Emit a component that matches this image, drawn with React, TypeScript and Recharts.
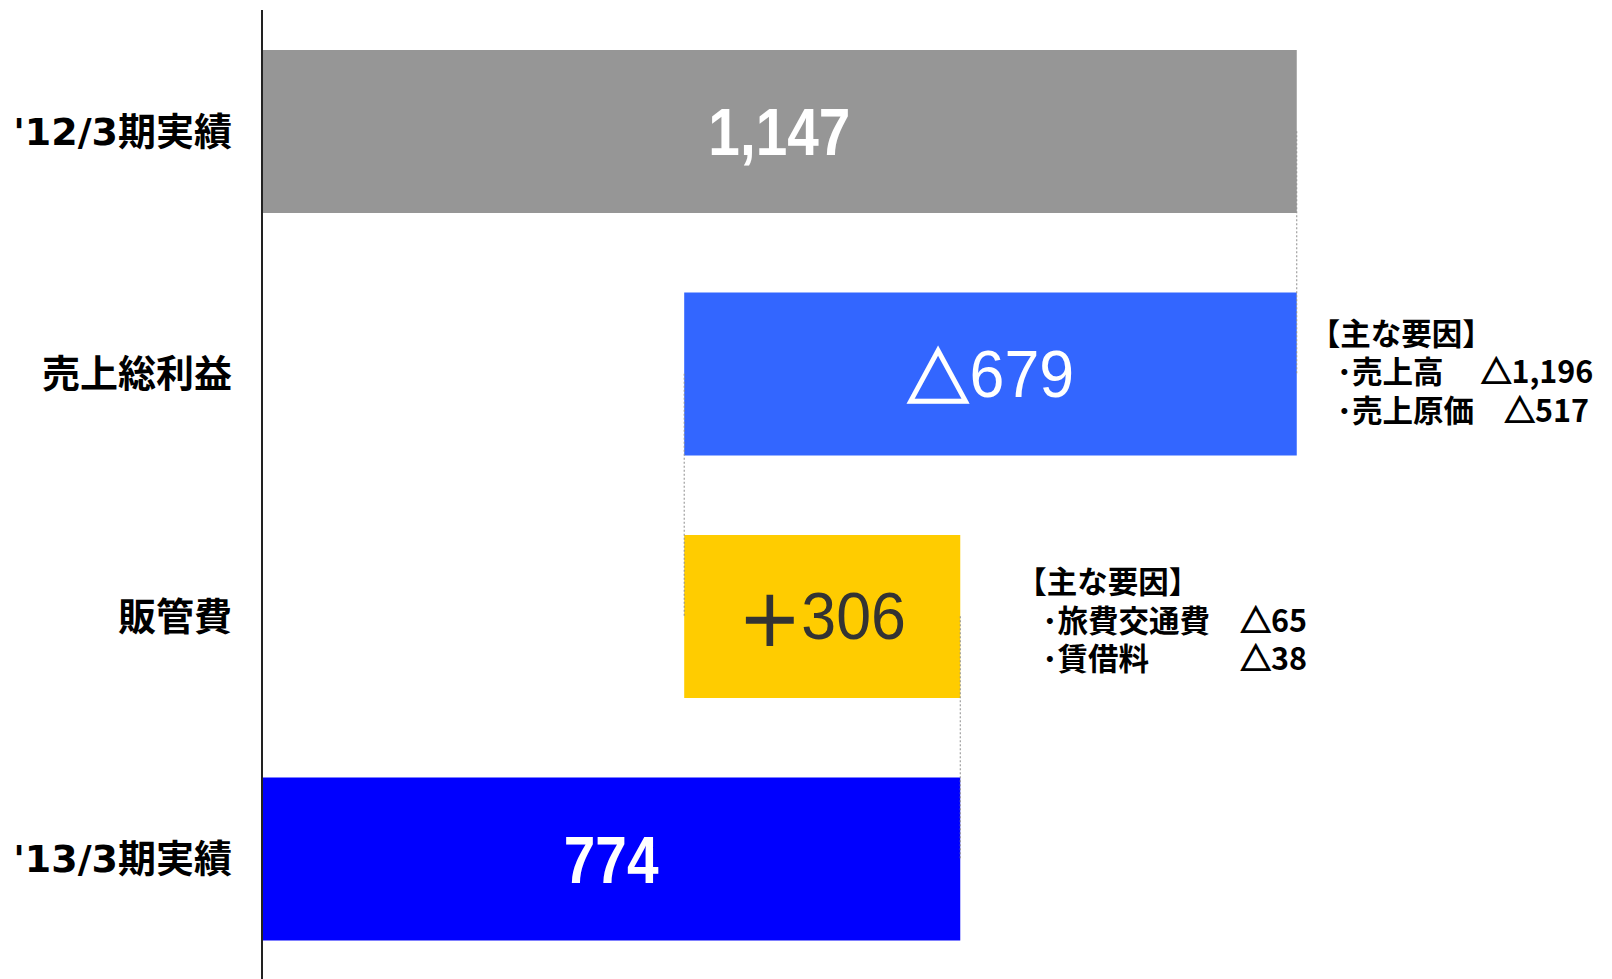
import { BarChart, Bar, XAxis, YAxis, ReferenceLine, LabelList, Cell } from "recharts";

// categories and values (waterfall, 百万円)
const categories = ["'12/3期実績", "売上総利益", "販管費", "'13/3期実績"];
const amounts = [1147, 679, 306, 774];
const valueSigns = ["", "△", "＋", ""];
const valueNumbers = ["1,147", "679", "306", "774"];
const factorHeads = ["", "【主な要因】", "【主な要因】", ""];
const factorNames = [[], ["･売上高", "･売上原価"], ["･旅費交通費", "･賃借料"], []];
const factorValues = [[], ["△1,196", "△517"], ["△65", "△38"], []];

const barColors = ["#969696", "#3366FF", "#FFCC00", "#0000FF"];
const labelColors = ["#FFFFFF", "#FFFFFF", "#333333", "#FFFFFF"];
const labelWeights = ["bold", "normal", "normal", "bold"];
const labelScale = [0.86, 0.95, 0.95, 0.86];

// floating bar start points
const afterGross = amounts[0] - amounts[1];
const bases = [0, afterGross, afterGross, 0];

const data = categories.map((name, i) => ({
    name,
    base: bases[i],
    amount: amounts[i],
}));

const FONT = "'Noto Sans CJK JP', sans-serif";

// note block offsets relative to bar right edge / centre, gaps before values
const noteLayout: Record<number, { head: number; item: number; dy: number[]; gaps: string[] }> = {
    1: { head: 13, item: 40, dy: [-42.5, -4.5, 34.5], gaps: ["　 ", "　"] },
    2: { head: 56, item: 82, dy: [-36.5, 2, 40.5], gaps: ["　", "　　　"] },
};

const renderBarText = (props: any) => {
    const { x, y, width, height, index } = props;
    const cx = x + width / 2;
    const cy = y + height / 2;
    const right = x + width;
    const note = noteLayout[index];
    const c = labelColors[index];
    return (
        <g>
            <text
                x={0}
                y={0}
                transform={`translate(${cx},${cy}) scale(${labelScale[index]},1)`}
                textAnchor="middle"
                dominantBaseline="central"
                fill={c}
                fontSize={66}
                fontWeight={labelWeights[index]}
                fontFamily="'Liberation Sans', Arial, 'Noto Sans CJK JP', sans-serif"
            >
                {valueSigns[index] && (
                    <tspan stroke={c} strokeWidth={2.5} fontFamily={FONT}>
                        {valueSigns[index]}
                    </tspan>
                )}
                <tspan>{valueNumbers[index]}</tspan>
            </text>
            {note && (
                <g fontFamily={FONT} fontWeight="bold" fontSize={30.5} fill="#000">
                    <text x={right + note.head} y={cy + note.dy[0]} dominantBaseline="central">
                        {factorHeads[index]}
                    </text>
                    {factorNames[index].map((name, k) => (
                        <text
                            key={k}
                            x={right + note.item}
                            y={cy + note.dy[k + 1]}
                            dominantBaseline="central"
                            style={{ whiteSpace: "pre" }}
                        >
                            <tspan>{name + note.gaps[k]}</tspan>
                            <tspan stroke="#000" strokeWidth={1.4}>
                                {factorValues[index][k].slice(0, 1)}
                            </tspan>
                            <tspan>{factorValues[index][k].slice(1)}</tspan>
                        </text>
                    ))}
                </g>
            )}
        </g>
    );
};

export default function App() {
    return (
        <div
            style={{
                position: "fixed",
                left: 0,
                top: 0,
                width: 1612,
                height: 979,
                overflow: "hidden",
                background: "#fff",
            }}
        >
            <BarChart
                width={1612}
                height={1000}
                data={data}
                layout="vertical"
                margin={{ top: 10, right: 87, bottom: 20, left: 0 }}
            >
                <XAxis type="number" domain={[0, 1400]} hide />
                <YAxis
                    type="category"
                    dataKey="name"
                    width={262}
                    tickSize={0}
                    tickMargin={30}
                    tickLine={false}
                    axisLine={{ stroke: "#222", strokeWidth: 2 }}
                    tick={{
                        fill: "#000",
                        fontSize: 38,
                        fontWeight: "bold",
                        fontFamily: "'DejaVu Sans', 'Noto Sans CJK JP', sans-serif",
                    }}
                />
                <ReferenceLine
                    segment={[{ x: amounts[0], y: categories[0] }, { x: amounts[0], y: categories[1] }]}
                    stroke="#8c8c8c"
                    strokeDasharray="2 2"
                />
                <ReferenceLine
                    segment={[{ x: afterGross, y: categories[1] }, { x: afterGross, y: categories[2] }]}
                    stroke="#8c8c8c"
                    strokeDasharray="2 2"
                />
                <ReferenceLine
                    segment={[{ x: amounts[3], y: categories[2] }, { x: amounts[3], y: categories[3] }]}
                    stroke="#8c8c8c"
                    strokeDasharray="2 2"
                />
                <Bar dataKey="base" stackId="w" fill="transparent" barSize={163} isAnimationActive={false} />
                <Bar dataKey="amount" stackId="w" barSize={163} isAnimationActive={false}>
                    {data.map((d, i) => (
                        <Cell key={d.name} fill={barColors[i]} />
                    ))}
                    <LabelList dataKey="amount" content={renderBarText} />
                </Bar>
            </BarChart>
        </div>
    );
}
